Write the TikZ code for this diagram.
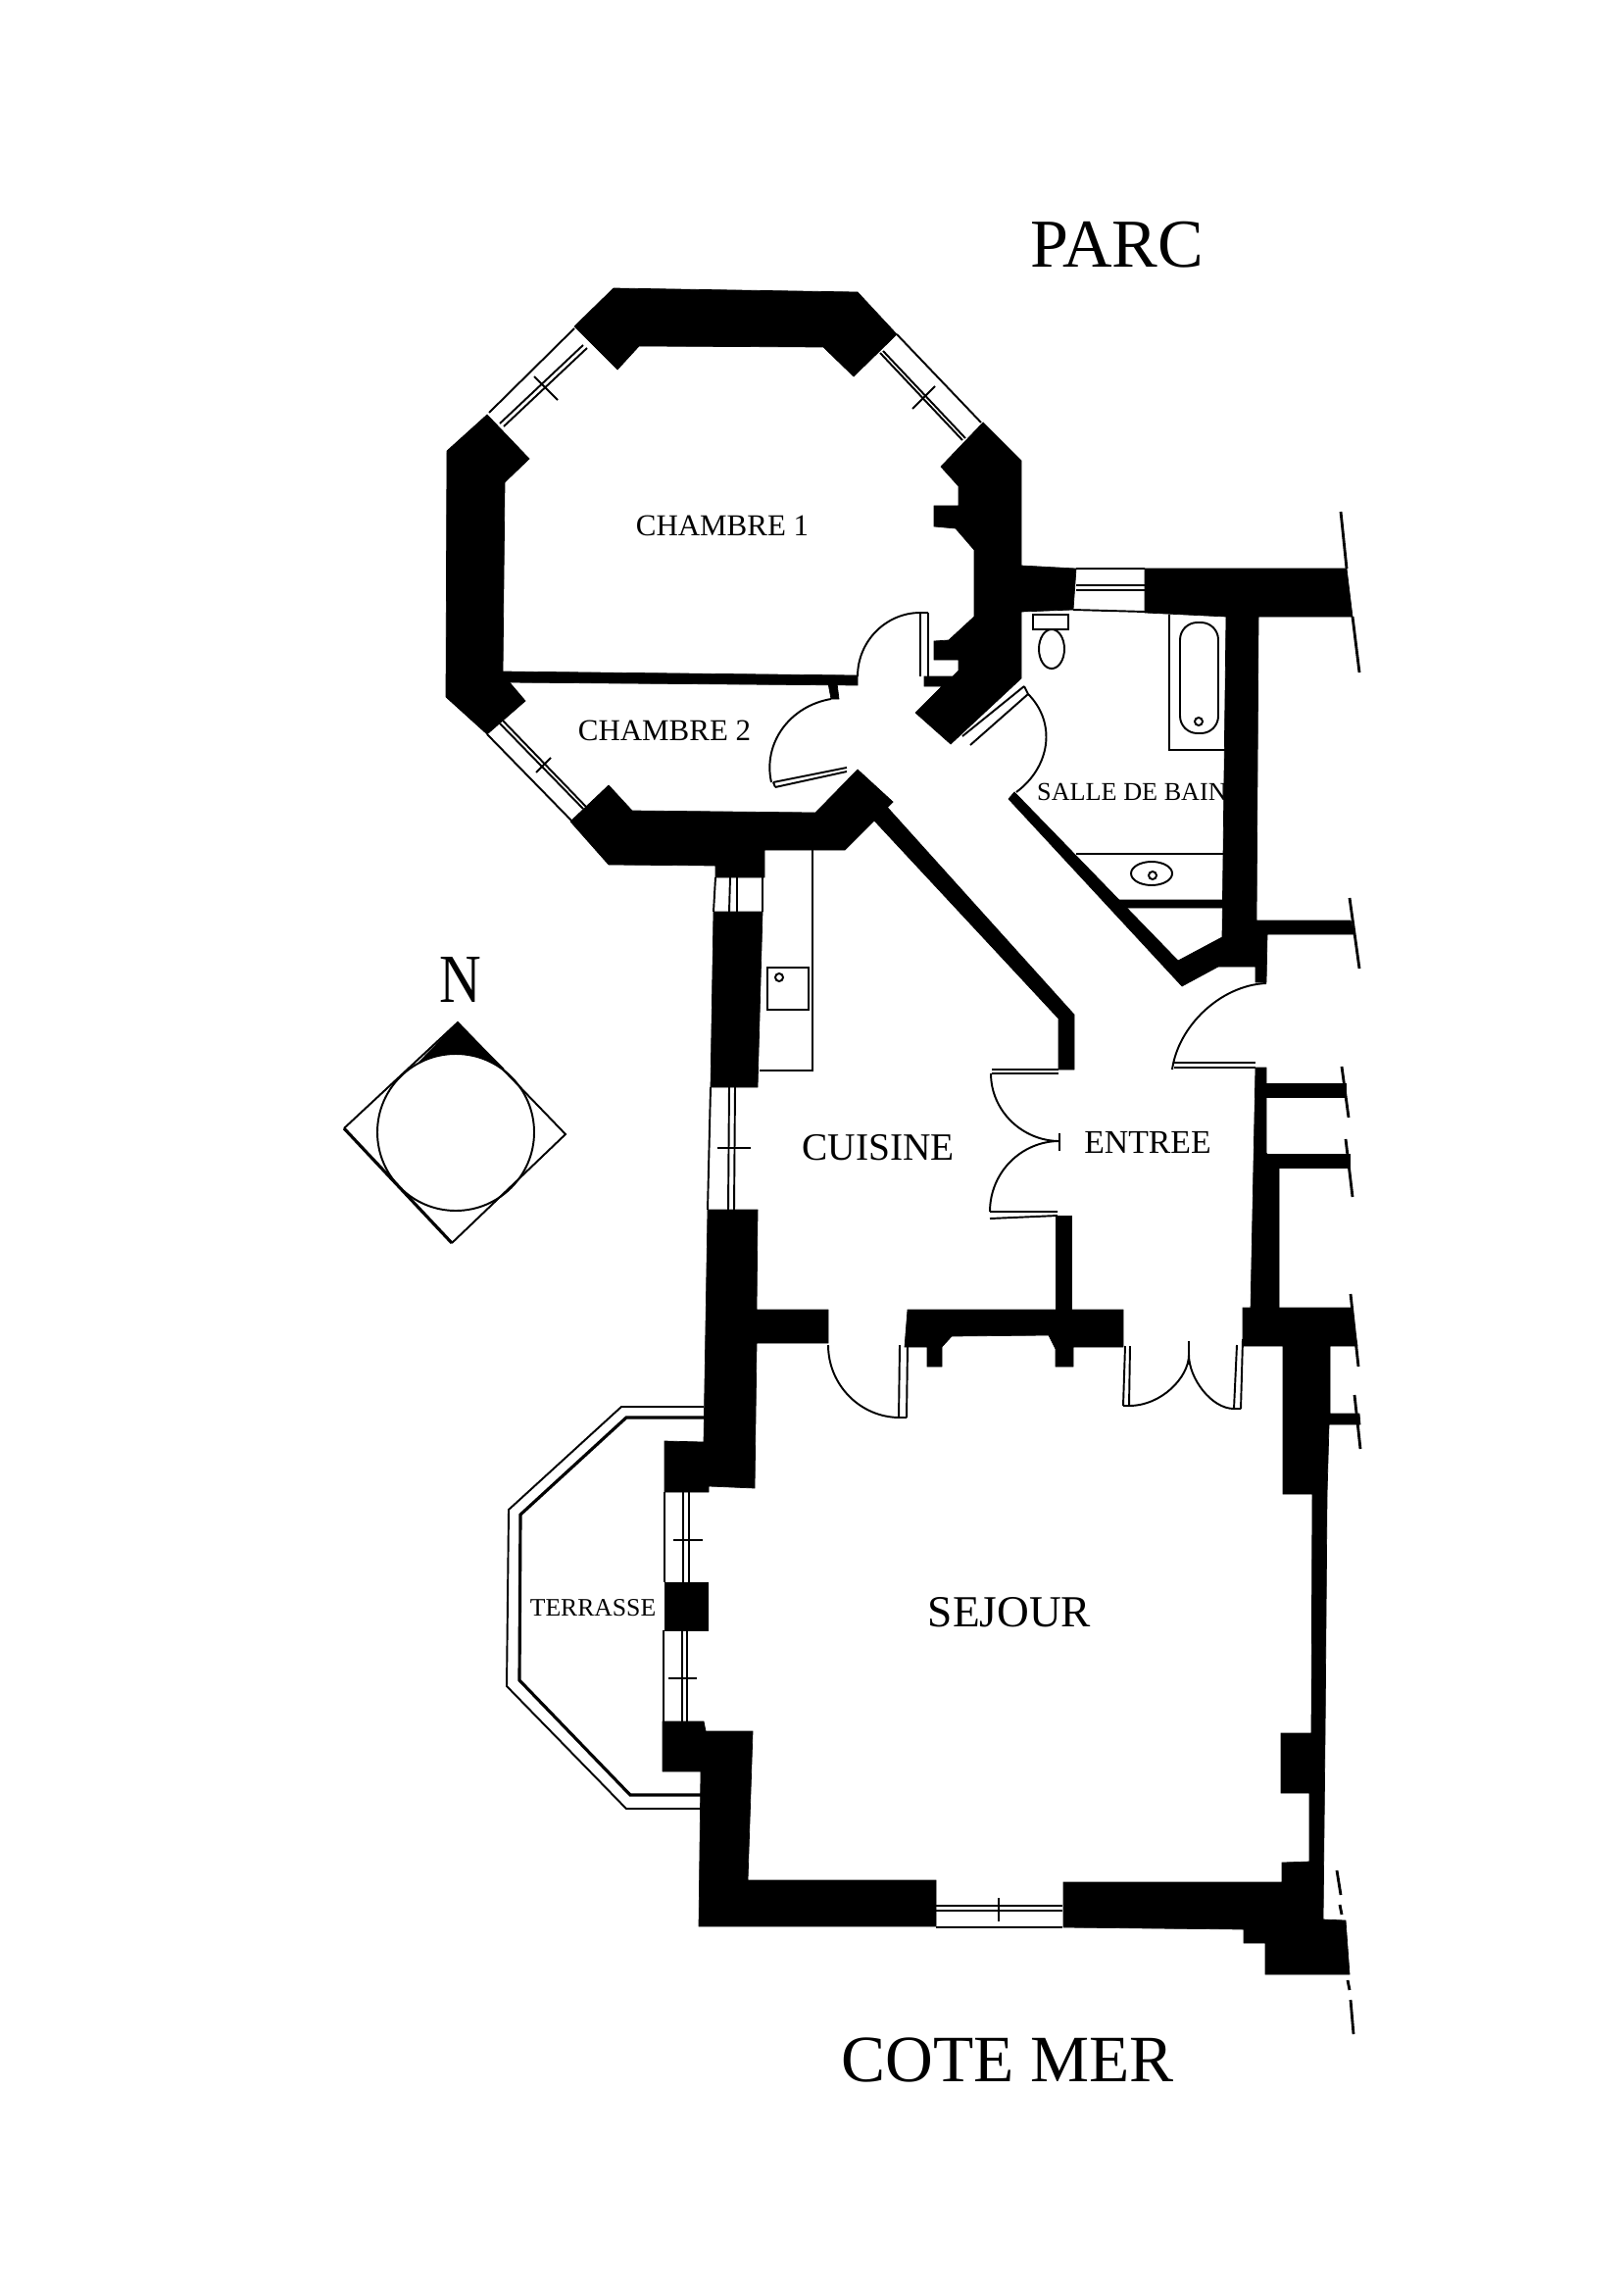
\documentclass[tikz,border=0pt]{standalone}
\usepackage{fontspec}
\setmainfont{Liberation Serif}
\usetikzlibrary{positioning}
\newcommand{\labelsize}[1]{\fontsize{#1}{#1}\selectfont}

\begin{document}
\begin{tikzpicture}[x=0.01cm,y=-0.01cm,
                    wall/.style={fill=black,draw=black,line width=0.2pt},
                    plan line/.style={draw=black,line width=0.55pt},
                    heavy line/.style={draw=black,line width=0.9pt},
                    break line/.style={draw=black,line width=0.8pt},
                    room label/.style={inner sep=0pt,text=black}]
\useasboundingbox (0,0) rectangle (1656,2337);
\fill[white] (0,0) rectangle (1656,2337);

\fill[wall] (626,294) -- (875,298) -- (915,341) -- (871,384) -- (840,354) -- (652,353) -- (630,377) -- (586,333) -- cycle;
\fill[wall] (497,423) -- (540,468) -- (515,492) -- (513,688) -- (536,715) -- (497,749) -- (455,711) -- (456,460) -- cycle;
\fill[wall] (513,685) -- (875,689) -- (875,699) -- (513,696) -- cycle;
\fill[wall] (845,697) -- (854,697) -- (856,713) -- (848,713) -- cycle;
\fill[wall] (621,801) -- (645,827) -- (832,829) -- (875,785) -- (911,818) -- (862,867) -- (780,867) -- (780,895) -- (730,895) -- (730,883) -- (621,882) -- (582,838) -- cycle;
\fill[wall] (1003,431) -- (1042,470) -- (1042,577) -- (1098,580) -- (1095,622) -- (1042,624) -- (1042,692) -- (970,759) -- (934,727) -- (961,700) -- (943,700) -- (943,690) -- (972,690) -- (978,684) -- (978,673) -- (953,673) -- (953,654) -- (968,653) -- (994,629) -- (994,561) -- (975,539) -- (953,537) -- (953,516) -- (978,516) -- (978,496) -- (960,476) -- cycle;
\fill[wall] (1168,580) -- (1374,580) -- (1380,629) -- (1284,629) -- (1282,939) -- (1378,939) -- (1382,953) -- (1293,953) -- (1292,1002) -- (1281,1002) -- (1281,986) -- (1243,986) -- (1206,1006) -- (1029,815) -- (1035,808) -- (1202,980) -- (1247,956) -- (1251,629) -- (1168,625) -- cycle;
\fill[wall] (904,822) -- (1096,1035) -- (1096,1091) -- (1080,1091) -- (1080,1039) -- (892,837) -- cycle;
\fill[wall] (1142,918) -- (1249,918) -- (1249,926) -- (1150,926) -- cycle;

\fill[wall] (728,930) -- (778,930) -- (773,1109) -- (725,1109) -- cycle;
\fill[wall] (722,1234) -- (773,1234) -- (772,1336) -- (845,1336) -- (845,1370) -- (772,1370) -- (770,1518) -- (723,1516) -- (723,1522) -- (678,1522) -- (678,1470) -- (718,1471) -- cycle;
\fill[wall] (926,1336) -- (1146,1336) -- (1146,1374) -- (1095,1374) -- (1095,1394) -- (1077,1394) -- (1077,1376) -- (1070,1362) -- (971,1363) -- (961,1374) -- (961,1394) -- (946,1394) -- (946,1374) -- (923,1374) -- cycle;
\fill[wall] (1077,1240) -- (1093,1240) -- (1093,1336) -- (1077,1336) -- cycle;
\fill[wall] (1281,1089) -- (1292,1089) -- (1292,1176) -- (1305,1191) -- (1305,1336) -- (1276,1336) -- cycle;
\fill[wall] (1292,1105) -- (1373,1105) -- (1373,1119) -- (1292,1119) -- cycle;
\fill[wall] (1292,1177) -- (1377,1177) -- (1377,1191) -- (1292,1191) -- cycle;
\fill[wall] (1268,1334) -- (1378,1334) -- (1385,1373) -- (1357,1373) -- (1357,1442) -- (1387,1442) -- (1388,1453) -- (1356,1453) -- (1354,1524) -- (1352,1768) -- (1350,1958) -- (1373,1959) -- (1377,2014) -- (1291,2014) -- (1291,1982) -- (1269,1982) -- (1269,1968) -- (1085,1966) -- (1085,1920) -- (1308,1920) -- (1308,1900) -- (1336,1899) -- (1336,1829) -- (1307,1829) -- (1307,1768) -- (1338,1768) -- (1339,1524) -- (1309,1524) -- (1309,1373) -- (1268,1373) -- cycle;
\fill[wall] (678,1614) -- (722,1614) -- (722,1663) -- (678,1663) -- cycle;
\fill[wall] (676,1756) -- (718,1756) -- (720,1766) -- (768,1766) -- (763,1918) -- (955,1918) -- (955,1965) -- (713,1965) -- (715,1807) -- (676,1807) -- cycle;

\draw[plan line] (586,335) -- (499,421);
\draw[plan line] (599,355) -- (514,435) (595,352) -- (510,432);
\draw[plan line] (545,384) -- (569,408);
\draw[plan line] (915,341) -- (1001,431);
\draw[plan line] (901,358) -- (985,447) (898,360) -- (982,449);
\draw[plan line] (954,394) -- (931,417);
\draw[plan line] (497,749) -- (583,837);
\draw[plan line] (513,735) -- (598,823) (510,738) -- (595,825);
\draw[plan line] (562,773) -- (547,788);
\draw[plan line] (1098,580) -- (1168,580) (1095,622) -- (1168,624);
\draw[plan line] (1098,597) -- (1168,597) (1098,602) -- (1168,602);

\draw[plan line] (730,895) -- (728,930) (778,895) -- (778,930);
\draw[plan line] (745,895) -- (744,930) (752,895) -- (752,930);
\draw[plan line] (725,1109) -- (722,1234);
\draw[plan line] (744,1109) -- (743,1234) (750,1109) -- (749,1234);
\draw[plan line] (732,1171) -- (766,1171);
\draw[plan line] (678,1522) -- (678,1614);
\draw[plan line] (697,1522) -- (697,1614) (703,1522) -- (703,1614);
\draw[plan line] (687,1571) -- (717,1571);
\draw[plan line] (677,1663) -- (677,1756);
\draw[plan line] (696,1663) -- (696,1756) (701,1663) -- (701,1756);
\draw[plan line] (682,1712) -- (711,1712);
\draw[plan line] (955,1944) -- (1084,1944) (955,1949) -- (1084,1949) (955,1966) -- (1084,1966);
\draw[plan line] (1019,1936) -- (1019,1960);

\draw[plan line] (939,625) -- (939,690) (947,625) -- (947,690) (939,625) -- (947,625);
\draw[plan line] (939,625) .. controls (904,625) and (875,654) .. (875,690);
\draw[plan line] (789,798) -- (864,783) (791,803) -- (864,787) (789,798) -- (791,803);
\draw[plan line] (787,798) .. controls (778,758) and (806,720) .. (848,713);
\draw[plan line] (982,751) -- (1045,700) (990,760) -- (1049,708) (1045,700) -- (1049,708);
\draw[plan line] (1049,708) .. controls (1078,737) and (1072,782) .. (1037,808);
\draw[plan line] (1012,1091) -- (1080,1091) (1012,1095) -- (1080,1095);
\draw[plan line] (1011,1095) .. controls (1011,1133) and (1043,1164) .. (1081,1164);
\draw[plan line] (1081,1164) .. controls (1042,1164) and (1010,1196) .. (1010,1236);
\draw[plan line] (1081,1156) -- (1081,1174);
\draw[plan line] (1010,1236) -- (1079,1236) (1010,1243) -- (1079,1240);
\draw[plan line] (1198,1084) -- (1281,1084) (1198,1089) -- (1281,1089);
\draw[plan line] (1196,1091) .. controls (1202,1047) and (1245,1005) .. (1292,1003);
\draw[plan line] (918,1372) -- (917,1446) (926,1372) -- (925,1446) (917,1446) -- (925,1446);
\draw[plan line] (845,1372) .. controls (845,1413) and (878,1446) .. (918,1446);
\draw[plan line] (1148,1373) -- (1146,1434) (1153,1373) -- (1152,1434) (1146,1434) -- (1152,1434);
\draw[plan line] (1262,1372) -- (1259,1437) (1268,1366) -- (1266,1437) (1259,1437) -- (1266,1437);
\draw[plan line] (1152,1434) .. controls (1185,1434) and (1213,1405) .. (1213,1382);
\draw[plan line] (1213,1382) .. controls (1213,1406) and (1236,1437) .. (1259,1437);
\draw[plan line] (1213,1368) -- (1213,1392);

\draw[plan line] (1193,627) -- (1193,765) -- (1251,765);
\draw[plan line,rounded corners=5pt] (1204,635) rectangle (1243,748);
\draw[plan line] (1223,736) circle (4);
\draw[plan line] (1054,627) rectangle (1090,642);
\draw[plan line] (1073,662) ellipse (13 and 20);
\draw[plan line] (1098,871) -- (1249,871);
\draw[plan line] (1175,891) ellipse (21 and 12);
\draw[plan line] (1176,893) circle (4);
\draw[plan line] (829,867) -- (829,1092) -- (775,1092);
\draw[plan line] (783,987) rectangle (825,1030);
\draw[plan line] (795,997) circle (4);

\draw[plan line] (718,1435) -- (634,1435) -- (519,1540) -- (517,1720) -- (639,1845) -- (715,1845);
\draw[heavy line] (718,1446) -- (639,1446) -- (531,1545) -- (530,1714) -- (643,1831) -- (715,1831);

\draw[break line] (1368,522) -- (1374,580) (1380,629) -- (1387,686);
\draw[break line] (1377,916) -- (1387,988);
\draw[break line] (1369,1088) -- (1376,1140);
\draw[break line] (1373,1162) -- (1380,1221);
\draw[break line] (1378,1320) -- (1386,1394);
\draw[break line] (1382,1423) -- (1388,1478);
\draw[break line] (1364,1908) -- (1368,1933) (1367,1943) -- (1369,1953);
\draw[break line] (1375,2020) -- (1377,2030) (1378,2040) -- (1381,2075);

\fill[wall] (467,1043) -- (514,1090) -- (421,1090) -- cycle;
\draw[plan line,fill=white] (465,1155) circle (80);
\draw[plan line] (351,1151) -- (467,1043) -- (577,1157) -- (461,1268);
\draw[heavy line] (461,1268) -- (351,1151);

\node[room label,font=\labelsize{19.9}] (parc) at (1140,250) {PARC};
\node[room label,font=\labelsize{19.2}] (cotemer) at (1028,2101) {COTE MER};
\node[room label,font=\labelsize{8.8}] (chambre1) at (737,536) {CHAMBRE 1};
\node[room label,font=\labelsize{8.8}] (chambre2) at (678,745) {CHAMBRE 2};
\node[room label,font=\labelsize{7.45}] (sallebain) at (1155,808) {SALLE DE BAIN};
\node[room label,font=\labelsize{11.2}] (cuisine) at (896,1171) {CUISINE};
\node[room label,font=\labelsize{9.6}] (entree) at (1171,1165) {ENTREE};
\node[room label,font=\labelsize{12.9}] (sejour) at (1030,1645) {SEJOUR};
\node[room label,font=\labelsize{7.3}] (terrasse) at (605,1640) {TERRASSE};
\node[room label,font=\labelsize{20},xscale=0.84,transform shape] (nord) at (470,999) {N};
\end{tikzpicture}
\end{document}
